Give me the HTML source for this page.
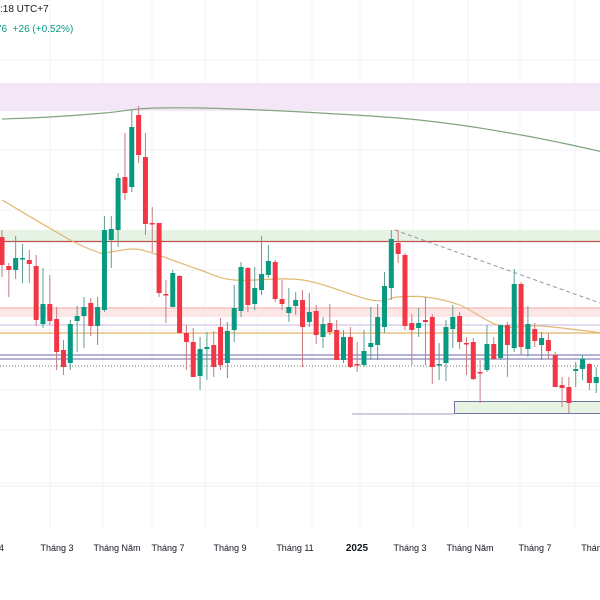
<!DOCTYPE html>
<html><head><meta charset="utf-8">
<style>
html,body{margin:0;padding:0;background:#fff;width:600px;height:600px;overflow:hidden;font-family:"Liberation Sans",sans-serif;}
#chart{position:absolute;left:0;top:0;}
.hdr{position:absolute;font-size:10px;white-space:nowrap;}
</style></head>
<body>
<div class="hdr" style="left:0;top:4px;color:#131722;">:18 UTC+7</div>
<div class="hdr" style="left:-4px;top:24px;color:#089981;">76&nbsp; +26 (+0.52%)</div>
<svg id="chart" width="600" height="600"></svg>
<script>
// price units: y = 500 - price
const open  =[263,234,230,241,240,234,176,196,181,150,137,179,184,197,174,190,260,270,323,313,385,343,277,277,206,193,224,167,158,124,151,155,173,137,170,189,232,196,210,225,238,201,187,194,200,178,189,163,177,170,140,163,136,135,153,155,173,212,257,245,177,172,180,183,135,137,171,184,157,158,128,130,156,142,175,152,216,151,171,155,160,145,115,113,129,131,136,117];
const close =[235,230,242,242,236,180,196,179,148,133,176,184,193,174,193,270,271,322,307,373,345,276,276,207,205,227,167,158,123,151,153,133,135,169,192,233,195,212,226,239,201,196,193,200,173,188,165,176,168,140,163,133,135,149,157,183,214,261,246,174,170,177,178,133,136,173,183,158,156,121,127,156,141,175,155,216,153,176,159,162,149,113,112,97,131,141,117,123];
const high  =[270,237,264,256,250,245,232,225,193,160,180,194,203,202,203,284,284,327,367,390,394,367,293,277,220,230,225,175,172,163,168,169,182,178,215,238,233,233,264,255,240,220,212,208,210,207,195,183,196,180,170,173,158,170,193,196,228,270,270,247,186,192,203,186,157,180,195,188,163,162,140,175,163,175,178,231,218,194,177,168,167,148,123,123,138,145,137,133];
const low   =[223,203,221,217,217,174,172,175,130,125,130,148,152,164,155,188,232,253,300,308,337,265,248,203,177,193,167,130,123,110,120,123,130,122,158,183,188,190,205,222,198,190,178,185,133,173,156,152,165,140,137,132,128,133,140,140,167,200,237,170,135,163,135,116,120,119,152,151,125,120,97,128,140,140,123,148,145,143,153,140,141,113,93,87,113,120,110,107];
const maSlowIdx=[0,7,15,20,23,29,38,44,58,67,76,82,88];
const maSlowVal=[381,383,387,391,392,392,390,388,382,375,365,357,348];
const maFastIdx=[0,10,14,15,19,22,29,34,44,54,58,62,67,73,79,88];
const maFastVal=[300,260,248,247,251,247,230,220,220,200,203,203,195,174,174,167];
const levels=[{p:258.5,c:"#c0504d",w:1.2,d:""},{p:192,c:"#f1a9a9",w:1,d:""},{p:175,c:"#c9b7e0",w:1,d:""},{p:167,c:"#e8b064",w:1.2,d:""},{p:145,c:"#8a84b8",w:1.3,d:""},{p:141,c:"#8a84b8",w:1.3,d:""},{p:134,c:"#777",w:1,d:"1,2"}];
const xLabels=["4","Tháng 3","Tháng Năm","Tháng 7","Tháng 9","Tháng 11","2025","Tháng 3","Tháng Năm","Tháng 7","Tháng"];
const xLabelPos=[0,57,117,168,230,295,357,410,470,535,594];

const svg=document.getElementById('chart');
const NS="http://www.w3.org/2000/svg";
const y=p=>500-p;
const x=i=>2+i*6.83;
function mk(t,a){const e=document.createElementNS(NS,t);for(const k in a)e.setAttribute(k,a[k]);svg.appendChild(e);return e;}
[50,103,152,205,257,312,360,413,468,520,575].forEach(gx=>{const g=mk('line',{x1:gx,y1:0,x2:gx,y2:530,stroke:"#f0f3fa"});

});
[60,150,210,270,330,390,430,483,486].forEach(gy=>{const g=mk('line',{x1:0,y1:gy,x2:600,y2:gy,stroke:"#eef0f5"});

});
let z=mk('rect',{x:0,y:83,width:600,height:28,fill:"#f3e6f7"});


z=mk('rect',{x:0,y:230,width:600,height:11,fill:"#e6f3e4"});


z=mk('rect',{x:0,y:308,width:600,height:9,fill:"#fce6e6"});


z=mk('rect',{x:454.5,y:401.5,width:150,height:12,fill:"#e7f4e4",stroke:"#6f73a8","stroke-width":1});


z=mk('line',{x1:352,y1:414,x2:454,y2:414,stroke:"#9aa0b5"});


levels.forEach(l=>{const e=mk('line',{x1:0,y1:y(l.p),x2:600,y2:y(l.p),stroke:l.c,"stroke-width":l.w,"stroke-dasharray":l.d});

});
z=mk('line',{x1:x(57.5),y1:230,x2:600,y2:303,stroke:"#8f96a3","stroke-dasharray":"4,3"});


function path(ix,vals){
 const P=ix.map((i,k)=>[x(i),y(vals[k])]);
 let d='M'+P[0][0].toFixed(1)+','+P[0][1];
 for(let k=0;k<P.length-1;k++){
  const p0=P[Math.max(0,k-1)],p1=P[k],p2=P[k+1],p3=P[Math.min(P.length-1,k+2)];
  const c1=[p1[0]+(p2[0]-p0[0])/6,p1[1]+(p2[1]-p0[1])/6];
  const c2=[p2[0]-(p3[0]-p1[0])/6,p2[1]-(p3[1]-p1[1])/6];
  d+='C'+c1.map(v=>v.toFixed(1)).join(',')+' '+c2.map(v=>v.toFixed(1)).join(',')+' '+p2[0].toFixed(1)+','+p2[1];
 }
 return d;}
z=mk('path',{d:path(maSlowIdx,maSlowVal),stroke:"#7fa57f",fill:"none","stroke-width":1.2});


z=mk('path',{d:path(maFastIdx,maFastVal),stroke:"#e3b873",fill:"none","stroke-width":1.2});


for(let i=0;i<open.length;i++){
 const up=close[i]>=open[i];const c=up?"#089981":"#f23645";const cx=x(i);
 const w=mk('line',{x1:cx,y1:y(high[i]),x2:cx,y2:y(low[i]),stroke:up?"#5f9e90":"#c97a80","stroke-width":1});
 
 
 const t=y(Math.max(open[i],close[i])),b=y(Math.min(open[i],close[i]));
 const r=mk('rect',{x:cx-2.5,y:t,width:5,height:Math.max(1.5,b-t),fill:c});
 
 
}
xLabels.forEach((s,k)=>{const tx=mk('text',{x:xLabelPos[k],y:551,"font-size":s==="2025"?10:9,"font-weight":s==="2025"?"bold":"normal",fill:"#131722","text-anchor":k===0?"end":"middle","font-family":"Liberation Sans, sans-serif"});
 if(k===0)tx.setAttribute('x',4);
 tx.textContent=s;
 
 });
</script>
</body></html>
